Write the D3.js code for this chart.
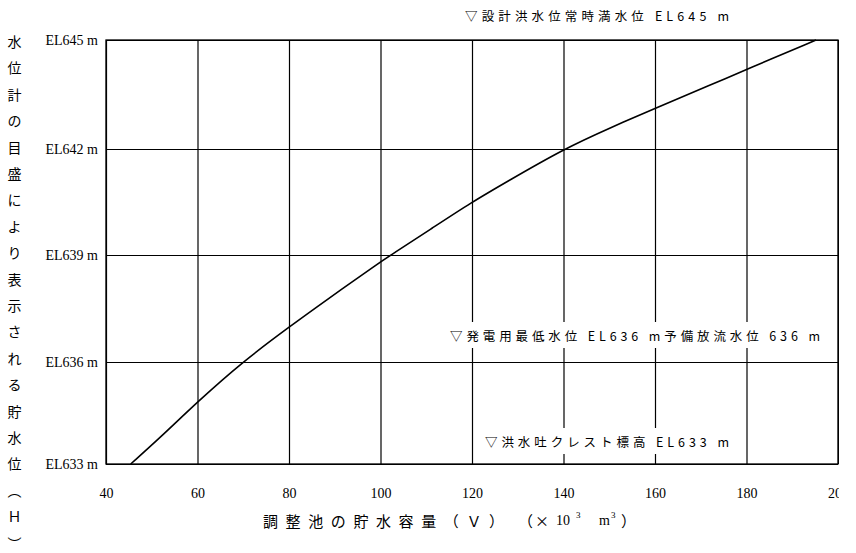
<!DOCTYPE html>
<html><head><meta charset="utf-8">
<script src="https://cdn.jsdelivr.net/npm/d3@7"></script>
<style>
body{margin:0;background:#fff}
svg{display:block}
</style></head>
<body>
<svg id="chart" width="839" height="553"></svg>
<script>
// ---- data ----
const volume = [45.4, 51.8, 60, 69.8, 80, 88.1, 100, 102.3, 111.3, 120, 127.3, 140, 150.5, 160, 172.5, 180, 195.2];
const level  = [633, 633.77, 634.83, 636, 636.98, 637.73, 638.81, 639, 639.76, 640.5, 641.05, 642, 642.6, 643.12, 643.78, 644.19, 645];
const xTicks = [40, 60, 80, 100, 120, 140, 160, 180, 200];
const yTicks = [633, 636, 639, 642, 645];
const yTitle = "水位計の目盛により表示される貯水位︵Ｈ︶";
const xTitle = "調整池の貯水容量（Ｖ）";
const noteTexts = [
  "▽設計洪水位常時満水位 EL645 m",
  "▽発電用最低水位 EL636 m予備放流水位 636 m",
  "▽洪水吐クレスト標高 EL633 m"
];
const noteLevels = [645, 636, 633];

// ---- layout ----
const svg = d3.select("#chart");
const L = 106, R = 838, T = 40, B = 464;
const JP = "'Noto Sans CJK JP', sans-serif";
const SERIF = "'Liberation Serif', 'DejaVu Serif', serif";

const x = d3.scaleLinear().domain([40, 200]).range([L, R]);
const y = d3.scaleLinear().domain(yTicks).range([464, 362, 255, 149, 40]);

// grid + x axis
const gx = svg.append("g").attr("transform", `translate(0,${B})`)
  .call(d3.axisBottom(x).tickValues(xTicks).tickSize(-(B - T)).tickSizeOuter(0).tickPadding(24).tickFormat(d3.format("d")));
gx.select(".domain").remove();
gx.selectAll("line").attr("stroke", "#000").attr("stroke-width", 1.2);
gx.selectAll("text").attr("font-family", SERIF).attr("font-size", 14).attr("fill", "#000");

const gy = svg.append("g").attr("transform", `translate(${L},0)`)
  .call(d3.axisLeft(y).tickValues(yTicks).tickSize(-(R - L)).tickSizeOuter(0).tickPadding(8).tickFormat(d => "EL" + d + " m"));
gy.select(".domain").remove();
gy.selectAll("line").attr("stroke", "#000").attr("stroke-width", 1.2);
gy.selectAll("text").attr("font-family", SERIF).attr("font-size", 14).attr("fill", "#000");

// frame
svg.append("rect").attr("x", L).attr("y", T).attr("width", R - L).attr("height", B - T)
  .attr("fill", "none").attr("stroke", "#000").attr("stroke-width", 1.3);

// curve
const pts = volume.map((v, i) => [v, level[i]]);
svg.append("path").datum(pts)
  .attr("fill", "none").attr("stroke", "#000").attr("stroke-width", 1.6)
  .attr("d", d3.line().x(d => x(d[0])).y(d => y(d[1])).curve(d3.curveBasis));

// annotations
const noteX = [465, 450, 485];
const noteLen = [267, 373, 247];
const noteDy = [-25, -27, -23];
const noteBox = [false, true, true];
noteTexts.forEach((t, i) => {
  const cy = y(noteLevels[i]) + noteDy[i];
  if (noteBox[i]) {
    svg.append("rect").attr("x", noteX[i] - 5).attr("y", cy - 13)
      .attr("width", noteLen[i] + 10).attr("height", 26).attr("fill", "#fff");
  }
  svg.append("text").attr("x", noteX[i]).attr("y", cy)
    .attr("dominant-baseline", "central")
    .attr("font-family", JP).attr("font-size", 12.5).attr("letter-spacing", 3)
    .attr("textLength", noteLen[i]).attr("lengthAdjust", "spacing")
    .attr("fill", "#000").text(t);
});

// y title (vertical, one char per row)
const yt = svg.append("text").attr("font-family", JP).attr("font-size", 14)
  .attr("text-anchor", "middle").attr("dominant-baseline", "central").attr("fill", "#000");
Array.from(yTitle).forEach((ch, i) => {
  yt.append("tspan").attr("x", 14.5).attr("y", 41 + i * 26.4).text(ch);
});

// x title
const xtY = 520;
svg.append("text").attr("x", 263).attr("y", xtY).attr("dominant-baseline", "central")
  .attr("font-family", JP).attr("font-size", 15).attr("letter-spacing", 7.6)
  .attr("fill", "#000").text(xTitle);
const unitParts = [
  {t: "（", x: 518, f: JP, s: 15, dy: 0},
  {t: "×", x: 535, f: JP, s: 14, dy: 0},
  {t: "10", x: 556, f: SERIF, s: 14, dy: 0},
  {t: "3", x: 576, f: SERIF, s: 9, dy: -5},
  {t: "m", x: 599, f: SERIF, s: 14, dy: 0},
  {t: "3", x: 611, f: SERIF, s: 9, dy: -5},
  {t: "）", x: 621, f: JP, s: 15, dy: 0}
];
unitParts.forEach(p => {
  svg.append("text").attr("x", p.x).attr("y", xtY + p.dy).attr("dominant-baseline", "central")
    .attr("font-family", p.f).attr("font-size", p.s).attr("fill", "#000").text(p.t);
});
</script>
</body></html>
